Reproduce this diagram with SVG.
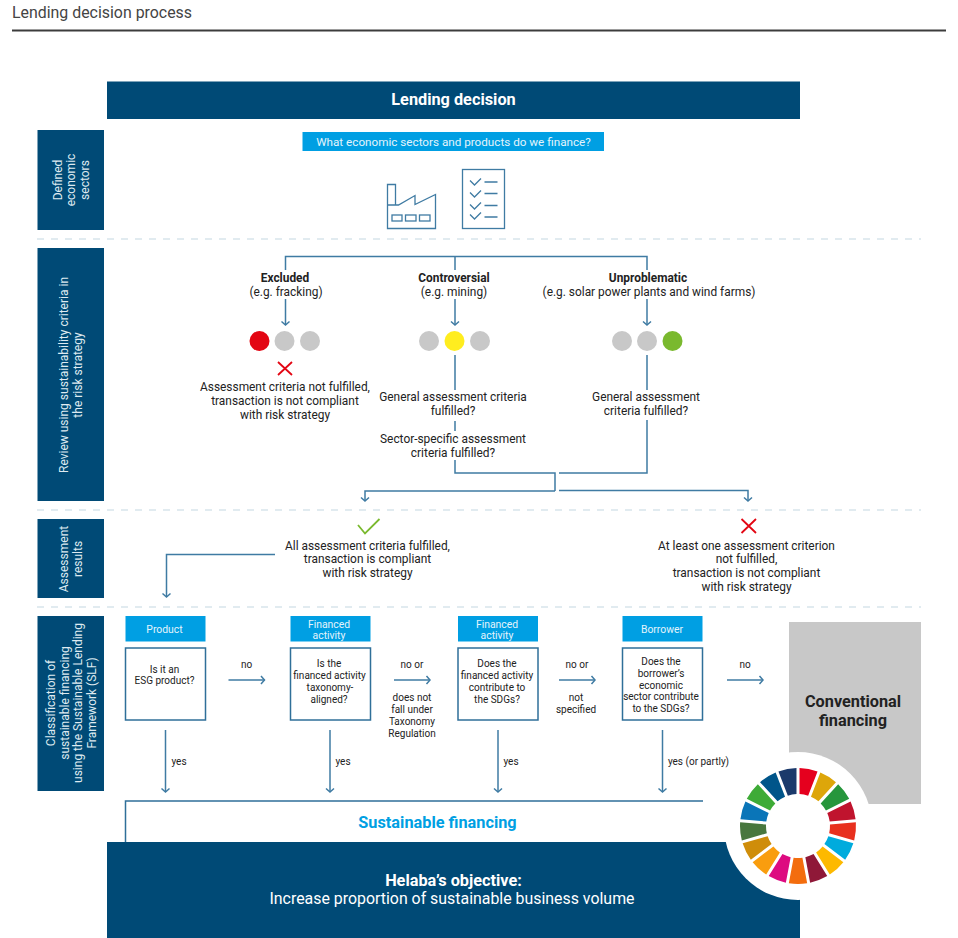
<svg xmlns="http://www.w3.org/2000/svg" width="958" height="938" viewBox="0 0 958 938">
<style>
text{font-family:Roboto,"Noto Sans","Liberation Sans",sans-serif;font-size:11.9px;fill:#222;text-anchor:middle}
.w{fill:#fff}
.b{font-weight:700}
.navy{fill:#004a76}
.cy{fill:#009fe3}
.c{fill:none;stroke:#3f7ba3;stroke-width:1.5}
.a{marker-end:url(#ah)}
.sep{fill:none;stroke:#d8e5ec;stroke-width:1.5;stroke-dasharray:7 7}
.box{fill:#fff;stroke:#2f6f99;stroke-width:1.5}
.g{fill:#c8c8c8}
.ic{fill:none;stroke:#3f7ba3;stroke-width:1.3}
.x{fill:none;stroke:#e30613;stroke-width:1.8}
.side{font-size:12px;fill:#dfeaf1}
.hd{font-size:10.4px;fill:#e4f4fc}
.s{font-size:10px}
.l{font-size:15.9px}
.lb{font-size:16.3px;font-weight:700}
</style>
<defs>
<marker id="ah" markerUnits="userSpaceOnUse" markerWidth="12" markerHeight="10" viewBox="-6 -5 12 10" refX="0" refY="0" orient="auto"><path d="M-3.5 -4 L0 0 L-3.500 4" fill="none" stroke="#3f7ba3" stroke-width="1.5"/></marker>
<path id="seg" d="M-9.17 -57.27A58 58 0 0 1 9.17 -57.27L4.4 -31.7A32 32 0 0 0 -4.4 -31.7Z"/>
</defs>
<rect width="958" height="938" fill="#fff"/>
<g id="title">
<text x="12" y="18" class="l" style="text-anchor:start;fill:#444">Lending decision process</text>
<path d="M12 30.5H946" stroke="#3c3c3c" stroke-width="2" fill="none"/>
</g>
<g id="separators">
<path class="sep" d="M37 239H921M37 510H921M37 607H921"/>
</g>
<g id="lending-decision"><rect class="navy" x="107" y="81.5" width="693" height="37.5"/><text class="w lb" x="453.500" y="104.500">Lending decision</text></g>
<g id="side-sectors"><rect class="navy" x="37.5" y="130" width="66.5" height="100"/>
<text class="side" transform="translate(61.500 180) rotate(-90)">Defined</text><text class="side" transform="translate(75 180) rotate(-90)">economic</text><text class="side" transform="translate(88.500 180) rotate(-90)">sectors</text></g>
<g id="side-review"><rect class="navy" x="37.5" y="248" width="66.5" height="253"/>
<text class="side" transform="translate(68 375) rotate(-90)">Review using sustainability criteria in</text><text class="side" transform="translate(82 375) rotate(-90)">the risk strategy</text></g>
<g id="side-results"><rect class="navy" x="37.5" y="519" width="66.5" height="79"/>
<text class="side" transform="translate(68 559) rotate(-90)">Assessment</text><text class="side" transform="translate(82 559) rotate(-90)">results</text></g>
<g id="side-slf"><rect class="navy" x="37.5" y="616" width="66.5" height="175"/>
<text class="side" transform="translate(55 703) rotate(-90)">Classification of</text><text class="side" transform="translate(68.5 703) rotate(-90)">sustainable financing</text><text class="side" transform="translate(82 703) rotate(-90)">using the Sustainable Lending</text><text class="side" transform="translate(95.5 703) rotate(-90)">Framework (SLF)</text></g>
<g id="question"><rect class="cy" x="302.5" y="132" width="301.5" height="19"/><text x="453.500" y="145.500" style="fill:#e4f4fc;font-size:11.7px">What economic sectors and products do we finance?</text></g>
<g id="factory-icon" class="ic"><path d="M387.5 228.5V184.5H395.5V205H398.5L415 195.5V204.5L435.5 194.5V228.5ZM387.5 205H398.5"/><rect x="392" y="215" width="10" height="6"/><rect x="405.5" y="215" width="10.5" height="6"/><rect x="419.5" y="215" width="10.5" height="6"/></g>
<g id="checklist-icon" class="ic"><rect x="462.5" y="169.5" width="42" height="59"/><path d="M470 180.500L474.500 185L481 178.500M484.500 182H497.500M470 192.500L474.500 197L481 190.500M484.500 193.500H497.500M470 204.500L474.500 209L481 202.500M484.500 205.500H497.500M470 214.500L474.500 219L481 212.500M484.500 217H497.500"/></g>
<g id="connectors">
<path class="c" d="M285.500 270V256.500H647V270M455 256.500V270"/>
<path class="c a" d="M285.500 299V325"/><path class="c a" d="M455 299V325"/><path class="c a" d="M647 299V325"/>
<path class="c" d="M455 355V390M455 421V431M455 460V473H555V491"/>
<path class="c a" d="M555 491H365V501"/>
<path class="c" d="M647 355V390M647 420V473H559"/>
<path class="c a" d="M559 490.500H748V501"/>
<path class="c a" d="M275 554.500H166.500V597"/>
<path class="c a" d="M228.500 680H264.500"/><path class="c a" d="M394 680H430"/><path class="c a" d="M559 680H595"/><path class="c a" d="M727 680H763"/>
<path class="c a" d="M165.500 730V792"/><path class="c a" d="M330 730V792"/><path class="c a" d="M498 730V792"/><path class="c a" d="M662.500 730V792"/>
</g>
<g id="excluded"><text class="b" x="285" y="282">Excluded</text><text x="286" y="296">(e.g. fracking)</text>
<circle cx="259.500" cy="341" r="10" fill="#e30613"/><circle class="g" cx="284.500" cy="341" r="10"/><circle class="g" cx="310" cy="341" r="10"/>
<path class="x" d="M278 362L292 375M292 362L278 375"/>
<text x="285" y="391">Assessment criteria not fulfilled,</text><text x="285" y="404.500">transaction is not compliant</text><text x="285" y="418.500">with risk strategy</text></g>
<g id="controversial"><text class="b" x="454" y="282">Controversial</text><text x="454" y="296">(e.g. mining)</text>
<circle class="g" cx="429" cy="341" r="10"/><circle cx="454.500" cy="341" r="10" fill="#ffed1f"/><circle class="g" cx="480" cy="341" r="10"/>
<text x="453" y="401">General assessment criteria</text><text x="453" y="415">fulfilled?</text><text x="453" y="443">Sector-specific assessment</text><text x="453" y="456.500">criteria fulfilled?</text></g>
<g id="unproblematic"><text class="b" x="648" y="282">Unproblematic</text><text x="649" y="296">(e.g. solar power plants and wind farms)</text>
<circle class="g" cx="622" cy="341" r="10"/><circle class="g" cx="647" cy="341" r="10"/><circle cx="672.500" cy="341" r="10" fill="#7ab92e"/>
<text x="646" y="401">General assessment</text><text x="646" y="415">criteria fulfilled?</text></g>
<g id="result-ok"><path d="M358 525L365 533.500L379.500 519" fill="none" stroke="#7ab92e" stroke-width="1.8"/>
<text x="367.500" y="549.500">All assessment criteria fulfilled,</text><text x="367.500" y="563">transaction is compliant</text><text x="367.500" y="577">with risk strategy</text></g>
<g id="result-no"><path class="x" d="M741.500 519L756 533M756 519L741.500 533"/>
<text x="746.500" y="549.500">At least one assessment criterion</text><text x="746.500" y="563">not fulfilled,</text><text x="746.500" y="577">transaction is not compliant</text><text x="746.500" y="591">with risk strategy</text></g>
<g id="q1"><rect class="cy" x="125.500" y="616" width="80" height="25.500"/><text class="hd" x="164.500" y="633">Product</text><rect class="box" x="125.500" y="648" width="80" height="72"/>
<text class="s" x="164.500" y="672.500">Is it an</text><text class="s" x="164.500" y="684">ESG product?</text></g>
<g id="q2"><rect class="cy" x="290.500" y="616" width="80" height="25.500"/><text class="hd" x="329" y="627.500">Financed</text><text class="hd" x="329" y="639">activity</text><rect class="box" x="290.500" y="648" width="80" height="72"/>
<text class="s" x="329" y="667">Is the</text><text class="s" x="329.500" y="679">financed activity</text><text class="s" x="330" y="691">taxonomy-</text><text class="s" x="329" y="702.500">aligned?</text></g>
<g id="q3"><rect class="cy" x="458" y="616" width="80" height="25.500"/><text class="hd" x="497" y="627.500">Financed</text><text class="hd" x="497" y="639">activity</text><rect class="box" x="458" y="648" width="80" height="72"/>
<text class="s" x="497" y="667">Does the</text><text class="s" x="497" y="679">financed activity</text><text class="s" x="497" y="691">contribute to</text><text class="s" x="497" y="702.500">the SDGs?</text></g>
<g id="q4"><rect class="cy" x="622.500" y="616" width="80" height="25.500"/><text class="hd" x="662" y="633">Borrower</text><rect class="box" x="622.500" y="648" width="80" height="72"/>
<text class="s" x="661" y="665">Does the</text><text class="s" x="661" y="676.500">borrower’s</text><text class="s" x="661" y="688.500">economic</text><text class="s" x="661" y="700">sector contribute</text><text class="s" x="661" y="712">to the SDGs?</text></g>
<g id="connector-labels">
<text class="s" x="246.500" y="668">no</text><text class="s" x="412" y="668">no or</text><text class="s" x="412" y="701">does not</text><text class="s" x="412" y="713">fall under</text><text class="s" x="412" y="725">Taxonomy</text><text class="s" x="412" y="736.500">Regulation</text>
<text class="s" x="577" y="668">no or</text><text class="s" x="576" y="701">not</text><text class="s" x="576" y="713">specified</text><text class="s" x="745" y="668">no</text>
<text class="s" x="179" y="765">yes</text><text class="s" x="343" y="765">yes</text><text class="s" x="511" y="765">yes</text><text class="s" x="698.500" y="765">yes (or partly)</text>
</g>
<g id="conventional"><rect class="g" x="789" y="622" width="132" height="182"/><text class="lb" x="853" y="707">Conventional</text><text class="lb" x="853" y="726">financing</text></g>
<g id="sustainable"><path class="c" d="M125.500 842V801H703" style="stroke:#2f6f99"/><text class="lb" x="437.500" y="828" style="fill:#009fe3">Sustainable financing</text></g>
<g id="objective"><rect class="navy" x="107" y="842" width="693" height="96"/><text class="w lb" x="453.500" y="885.500">Helaba’s objective:</text><text class="w l" x="452" y="904">Increase proportion of sustainable business volume</text></g>
<g id="sdg-wheel" transform="translate(798 826)">
<circle r="74" fill="#fff"/>
<use href="#seg" transform="rotate(10.59)" fill="#e5001e"/>
<use href="#seg" transform="rotate(31.76)" fill="#dda60a"/>
<use href="#seg" transform="rotate(52.94)" fill="#26963c"/>
<use href="#seg" transform="rotate(74.12)" fill="#c0142e"/>
<use href="#seg" transform="rotate(95.29)" fill="#e8301e"/>
<use href="#seg" transform="rotate(116.47)" fill="#00abdd"/>
<use href="#seg" transform="rotate(137.65)" fill="#fdb900"/>
<use href="#seg" transform="rotate(158.82)" fill="#8f1838"/>
<use href="#seg" transform="rotate(180)" fill="#f36d0e"/>
<use href="#seg" transform="rotate(201.18)" fill="#dd0b80"/>
<use href="#seg" transform="rotate(222.35)" fill="#f99d0e"/>
<use href="#seg" transform="rotate(243.53)" fill="#cf8d0a"/>
<use href="#seg" transform="rotate(264.71)" fill="#48773e"/>
<use href="#seg" transform="rotate(285.88)" fill="#0a75b8"/>
<use href="#seg" transform="rotate(307.06)" fill="#3eab37"/>
<use href="#seg" transform="rotate(328.24)" fill="#00558a"/>
<use href="#seg" transform="rotate(349.41)" fill="#1b3a6b"/>
</g>
</svg>
